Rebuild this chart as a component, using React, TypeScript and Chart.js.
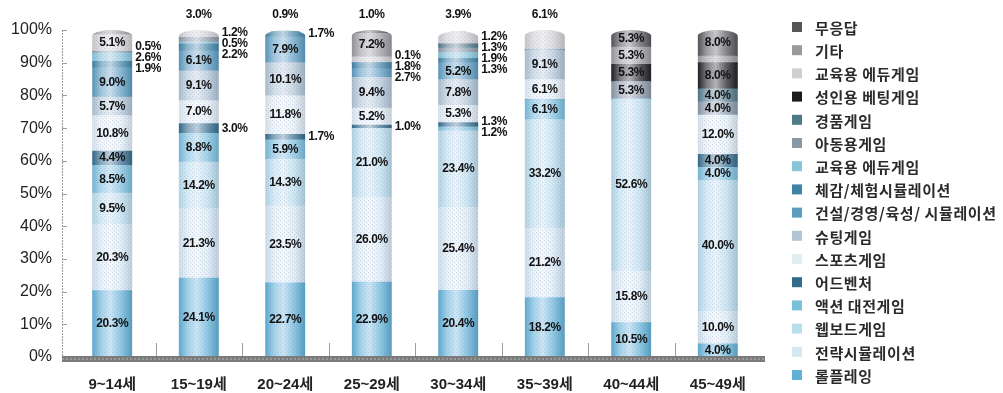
import { useEffect, useRef } from 'react';
import { Chart, registerables } from 'chart.js';

Chart.register(...registerables);

// ---- data -------------------------------------------------------------
const ageGroups = ['9~14세', '15~19세', '20~24세', '25~29세', '30~34세', '35~39세', '40~44세', '45~49세'];

// Share of favourite game genre (%) per age group, stacked from the bottom up
const rolePlaying = [20.3, 24.1, 22.7, 22.9, 20.4, 18.2, 10.5, 4.0];
const strategySim = [20.3, 21.3, 23.5, 26.0, 25.4, 21.2, 15.8, 10.0];
const webBoard = [9.5, 14.2, 14.3, 21.0, 23.4, 33.2, 52.6, 40.0];
const actionFight = [8.5, 8.8, 5.9, 0, 1.2, 6.1, 0, 4.0];
const adventure = [4.4, 3.0, 1.7, 1.0, 1.3, 0, 0, 4.0];
const sports = [10.8, 7.0, 11.8, 5.2, 5.3, 6.1, 0, 12.0];
const shooting = [5.7, 9.1, 10.1, 9.4, 7.8, 9.1, 0, 0];
const buildManageSim = [9.0, 6.1, 7.9, 2.7, 5.2, 0, 0, 0];
const experienceSim = [1.9, 2.2, 1.7, 1.8, 1.3, 0, 0, 0];
const eduGame = [2.6, 0.5, 0, 0.1, 1.9, 0, 0, 0];
const kidsGame = [0.5, 1.2, 0, 0, 1.3, 0, 5.3, 4.0];
const prizeGame = [0, 0, 0, 0, 1.2, 0, 0, 4.0];
const adultBetting = [0, 0, 0, 0, 0, 0, 5.3, 8.0];
const eduGameGray = [5.1, 3.0, 0.9, 1.7, 3.9, 6.1, 0, 0];
const others = [1.4, 0, 0, 7.2, 0, 0, 5.3, 2.0];
const noAnswer = [0, 0, 0, 1.0, 0, 0, 5.3, 8.0];

// cells whose share is drawn without a printed value (group indices)
const othersUnlabeled = [0, 7];
const eduGrayUnlabeled = [3];

const yTickValues = [0, 10, 20, 30, 40, 50, 60, 70, 80, 90, 100];

// ---- series definitions ----------------------------------------------
type Series = { name: string; values: number[]; color: string; quiet?: number[] };

const series: Series[] = [
  { name: '롤플레잉', values: rolePlaying, color: '#5fb2d6' },
  { name: '전략시뮬레이션', values: strategySim, color: '#d6e9f3' },
  { name: '웹보드게임', values: webBoard, color: '#b9deec' },
  { name: '액션 대전게임', values: actionFight, color: '#78c0dc' },
  { name: '어드벤처', values: adventure, color: '#336c8a' },
  { name: '스포츠게임', values: sports, color: '#e0eef4' },
  { name: '슈팅게임', values: shooting, color: '#b0c6d4' },
  { name: '건설/경영/육성/ 시뮬레이션', values: buildManageSim, color: '#5a9dbf' },
  { name: '체감/체험시뮬레이션', values: experienceSim, color: '#3e84a4' },
  { name: '교육용 에듀게임', values: eduGame, color: '#86c6d8' },
  { name: '아동용게임', values: kidsGame, color: '#8a98a5' },
  { name: '경품게임', values: prizeGame, color: '#4d7a86' },
  { name: '성인용 베팅게임', values: adultBetting, color: '#1c1c1c' },
  { name: '교육용 에듀게임', values: eduGameGray, color: '#cfcfcf', quiet: eduGrayUnlabeled },
  { name: '기타', values: others, color: '#9a9a9a', quiet: othersUnlabeled },
  { name: '무응답', values: noAnswer, color: '#555555' },
];

// groups whose uppermost value is printed above the cylinder
const LABEL_ABOVE = new Set([1, 2, 3, 4, 5]);

const BAR_W = 40;
const CAP = { x: BAR_W / 2, y: 6 };
const SIDE_GAP = 11;
const NUM_FONT = "'Liberation Sans', Arial, sans-serif";
const KR_FONT = "'Noto Sans CJK KR', 'Liberation Sans', sans-serif";

function rgb(hex: string) {
  const n = parseInt(hex.slice(1), 16);
  return [(n >> 16) & 255, (n >> 8) & 255, n & 255];
}
function mix(hex: string, target: number, t: number) {
  const f = (c: number) => Math.round(c + (target - c) * t);
  const [r, g, b] = rgb(hex);
  return `rgb(${f(r)},${f(g)},${f(b)})`;
}

function stackTotal(j: number) {
  return series.reduce((s, d) => s + d.values[j], 0);
}

function isQuiet(s: Series, j: number) {
  return !!s.quiet && s.quiet.includes(j);
}

// fine print-style dot screen laid over the cylinders
function dotScreen(ctx: CanvasRenderingContext2D) {
  const tile = document.createElement('canvas');
  tile.width = 4;
  tile.height = 4;
  const t = tile.getContext('2d')!;
  t.fillStyle = 'rgba(110,110,190,0.22)';
  t.fillRect(0, 0, 1, 1);
  t.fillRect(2, 2, 1, 1);
  return ctx.createPattern(tile, 'repeat');
}

function drawAxesAndFloor(chart: Chart) {
  const { ctx, chartArea } = chart;
  const x = chart.scales.x;
  const y = chart.scales.y;
  const ax = chartArea.left - 7;
  ctx.save();
  // dashed vertical axis with small ticks
  ctx.strokeStyle = '#9c9c9c';
  ctx.lineWidth = 1;
  ctx.setLineDash([2, 1]);
  ctx.beginPath();
  ctx.moveTo(ax + 0.5, chartArea.top);
  ctx.lineTo(ax + 0.5, chartArea.bottom);
  ctx.stroke();
  ctx.setLineDash([]);
  ctx.beginPath();
  yTickValues.forEach((v) => {
    const py = Math.round(y.getPixelForValue(v)) + 0.5;
    ctx.moveTo(ax, py);
    ctx.lineTo(ax + 5, py);
  });
  // separators between age groups
  for (let j = 0; j < ageGroups.length - 1; j++) {
    const bx = Math.round((x.getPixelForValue(j) + x.getPixelForValue(j + 1)) / 2) + 0.5;
    ctx.moveTo(bx, chartArea.bottom - 14);
    ctx.lineTo(bx, chartArea.bottom);
  }
  ctx.stroke();
  // hatched floor band
  const fx = ax;
  const fw = chartArea.right + 4 - ax;
  ctx.fillStyle = '#7a7a7a';
  ctx.fillRect(fx, chartArea.bottom - 1, fw, 6);
  ctx.strokeStyle = '#b8b8b8';
  ctx.setLineDash([2, 2]);
  ctx.beginPath();
  ctx.moveTo(fx, chartArea.bottom + 2);
  ctx.lineTo(fx + fw, chartArea.bottom + 2);
  ctx.stroke();
  ctx.restore();
}

function drawValueLabels(chart: Chart) {
  const { ctx, chartArea } = chart;
  const x = chart.scales.x;
  const y = chart.scales.y;
  ctx.save();
  ctx.font = `bold 12px ${NUM_FONT}`;
  (ctx as any).letterSpacing = '-0.4px';
  ctx.fillStyle = '#111';
  ctx.textBaseline = 'middle';
  ageGroups.forEach((_, j) => {
    const cx = x.getPixelForValue(j);
    let topIdx = -1;
    series.forEach((s, i) => {
      if (s.values[j] > 0 && !isQuiet(s, j)) topIdx = i;
    });
    const side: { y: number; text: string }[] = [];
    let base = 0;
    series.forEach((s, i) => {
      const v = s.values[j];
      const y0 = y.getPixelForValue(Math.min(base, 100));
      base += v;
      const y1 = y.getPixelForValue(Math.min(base, 100));
      if (v <= 0 || isQuiet(s, j)) return;
      const text = `${v.toFixed(1)}%`;
      if (i === topIdx && LABEL_ABOVE.has(j)) {
        ctx.textAlign = 'center';
        ctx.fillText(text, cx, chartArea.top - 15);
      } else if (v <= 3) {
        side.push({ y: (y0 + y1) / 2, text });
      } else {
        ctx.textAlign = 'center';
        ctx.fillText(text, cx, (y0 + y1) / 2);
      }
    });
    // small shares go beside the bar, spread so they do not collide
    side.sort((a, b) => a.y - b.y);
    const clusters: { y: number; text: string }[][] = [];
    side.forEach((l) => {
      const last = clusters[clusters.length - 1];
      if (last && l.y - last[last.length - 1].y < SIDE_GAP) last.push(l);
      else clusters.push([l]);
    });
    ctx.textAlign = 'left';
    clusters.forEach((cl) => {
      const mean = cl.reduce((s, l) => s + l.y, 0) / cl.length;
      let start = mean - ((cl.length - 1) / 2) * SIDE_GAP;
      if (start < chartArea.top) start = chartArea.top;
      cl.forEach((l, k) => {
        ctx.fillText(l.text, cx + BAR_W / 2 + 3, start + k * SIDE_GAP);
      });
    });
  });
  ctx.restore();
}

function drawLegend(chart: Chart) {
  const { ctx, chartArea } = chart;
  ctx.save();
  ctx.font = `bold 15px ${KR_FONT}`;
  (ctx as any).letterSpacing = '0.6px';
  ctx.textBaseline = 'middle';
  ctx.textAlign = 'left';
  const boxX = chartArea.right + 31;
  [...series].reverse().forEach((s, k) => {
    const cy = 27 + k * 23.2;
    ctx.fillStyle = s.color;
    ctx.fillRect(boxX, cy - 5, 10, 10);
    ctx.fillStyle = '#2b2b2b';
    ctx.fillText(s.name, boxX + 23, cy + 1);
  });
  ctx.restore();
}

const cylinderPlugin = {
  id: 'cylinders',
  beforeDatasetsDraw(chart: Chart) {
    const { ctx } = chart;
    const x = chart.scales.x;
    const y = chart.scales.y;
    ctx.save();
    ctx.beginPath();
    ageGroups.forEach((_, j) => {
      const cx = x.getPixelForValue(j);
      const top = y.getPixelForValue(Math.min(stackTotal(j), 100));
      const bottom = y.getPixelForValue(0);
      (ctx as any).roundRect(cx - BAR_W / 2, top, BAR_W, bottom - top + 2, [CAP, CAP, 0, 0]);
    });
    ctx.clip();
  },
  afterDatasetsDraw(chart: Chart) {
    const { ctx, chartArea } = chart;
    const pat = dotScreen(ctx);
    if (pat) {
      ctx.fillStyle = pat;
      ctx.fillRect(chartArea.left, 0, chartArea.right - chartArea.left, chartArea.bottom);
    }
    ctx.restore();
    drawAxesAndFloor(chart);
    drawValueLabels(chart);
    drawLegend(chart);
  },
};

export default function App() {
  const canvasRef = useRef<HTMLCanvasElement | null>(null);

  useEffect(() => {
    const canvas = canvasRef.current;
    if (!canvas) return;
    const chart = new Chart(canvas, {
      type: 'bar',
      data: {
        labels: ageGroups,
        datasets: series.map((s) => ({
          label: s.name,
          data: s.values,
          borderWidth: 0,
          barThickness: BAR_W,
          backgroundColor: (c: any) => {
            const ch = c.chart;
            if (c.type !== 'data' || !ch.chartArea) return s.color;
            const cx = ch.scales.x.getPixelForValue(c.dataIndex);
            const g = ch.ctx.createLinearGradient(cx - BAR_W / 2, 0, cx + BAR_W / 2, 0);
            g.addColorStop(0, mix(s.color, 0, 0.05));
            g.addColorStop(0.22, mix(s.color, 255, 0.42));
            g.addColorStop(0.45, mix(s.color, 255, 0.68));
            g.addColorStop(0.72, mix(s.color, 255, 0.28));
            g.addColorStop(1, mix(s.color, 0, 0.12));
            return g;
          },
        })),
      },
      options: {
        responsive: false,
        animation: false,
        devicePixelRatio: 1,
        events: [],
        layout: { padding: { top: 30, right: 242, bottom: 0, left: 0 } },
        plugins: {
          legend: { display: false },
          tooltip: { enabled: false },
        },
        scales: {
          x: {
            stacked: true,
            offset: true,
            grid: { display: false, drawTicks: false },
            border: { display: false },
            ticks: {
              padding: 19,
              color: '#222',
              font: { family: "'Liberation Sans', 'Noto Sans CJK KR', sans-serif", size: 15, weight: 'bold' },
            },
            afterFit: (scale: any) => {
              scale.height = 36;
            },
          },
          y: {
            stacked: true,
            min: 0,
            max: 100,
            grid: { display: false, drawTicks: false },
            border: { display: false },
            ticks: {
              stepSize: 10,
              padding: 17,
              color: '#222',
              font: { family: NUM_FONT, size: 16 },
              callback: (v: any) => `${v}%`,
            },
            afterFit: (scale: any) => {
              scale.width = 69;
            },
          },
        },
      },
      plugins: [cylinderPlugin],
    } as any);
    return () => chart.destroy();
  }, []);

  return (
    <div style={{ position: 'absolute', left: 0, top: 0, width: 1003, height: 393, background: '#fff' }}>
      <canvas ref={canvasRef} width={1003} height={393} />
    </div>
  );
}
